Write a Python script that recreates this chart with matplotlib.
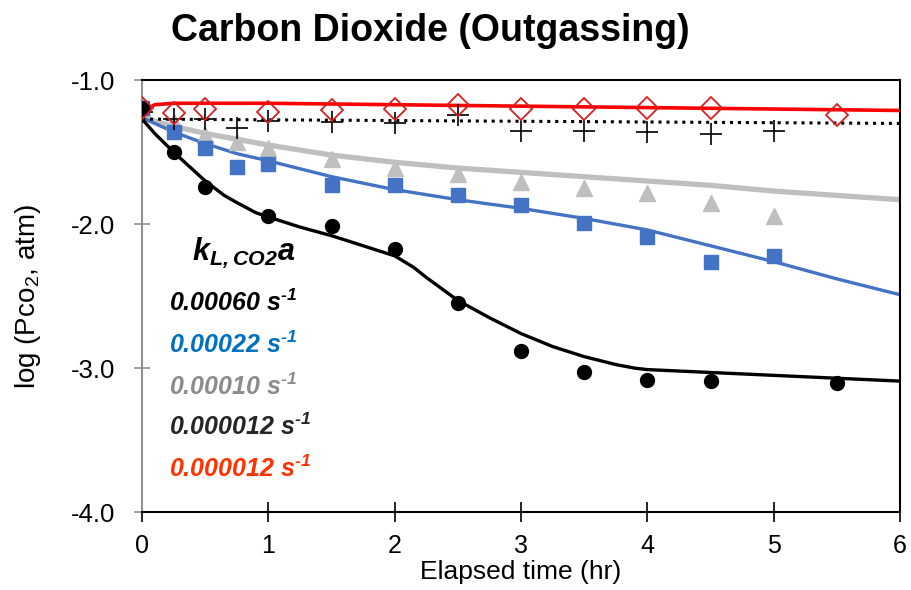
import matplotlib
matplotlib.use("Agg")
import matplotlib.pyplot as plt

plt.rcParams['font.family'] = ['Liberation Sans', 'DejaVu Sans']

# ---- data ----
t_black = [0, 0.25, 0.5, 1.0, 1.5, 2.0, 2.5, 3.0, 3.5, 4.0, 4.5, 5.5]
y_black = [-1.19, -1.50, -1.74, -1.94, -2.01, -2.17, -2.55, -2.88, -3.03, -3.08, -3.09, -3.10]
fit_t_black = [0, 0.1, 0.25, 0.4, 0.5, 0.65, 0.75, 0.9, 1.0, 1.25, 1.5, 1.75, 2.0, 2.15, 2.25,
               2.5, 2.75, 3.0, 3.25, 3.5, 3.75, 3.9, 4.0, 4.5, 5.0, 5.5, 6.0]
fit_y_black = [-1.27, -1.37, -1.50, -1.62, -1.70, -1.80, -1.85, -1.92, -1.95, -2.02, -2.08,
               -2.15, -2.22, -2.30, -2.37, -2.53, -2.65, -2.76, -2.85, -2.92, -2.975, -3.0,
               -3.01, -3.03, -3.05, -3.07, -3.09]

t_blue = [0, 0.25, 0.5, 0.75, 1.0, 1.5, 2.0, 2.5, 3.0, 3.5, 4.0, 4.5, 5.0]
y_blue = [-1.19, -1.36, -1.47, -1.60, -1.58, -1.73, -1.73, -1.80, -1.87, -1.99, -2.09, -2.26, -2.22]
fit_t_blue = [0, 0.25, 0.5, 0.75, 1.0, 1.5, 2.0, 2.5, 3.0, 3.5, 4.0, 4.5, 5.0, 5.5, 6.0]
fit_y_blue = [-1.26, -1.36, -1.44, -1.51, -1.56, -1.67, -1.76, -1.83, -1.89, -1.96, -2.04,
              -2.15, -2.26, -2.38, -2.49]

t_gray = [0, 0.25, 0.5, 0.75, 1.0, 1.5, 2.0, 2.5, 3.0, 3.5, 4.0, 4.5, 5.0]
y_gray = [-1.19, -1.29, -1.38, -1.43, -1.47, -1.55, -1.61, -1.65, -1.71, -1.75, -1.78, -1.85, -1.94]
fit_t_gray = [0, 0.25, 0.5, 1.0, 1.5, 2.0, 2.5, 3.0, 3.5, 4.0, 4.5, 5.0, 5.5, 6.0]
fit_y_gray = [-1.26, -1.32, -1.37, -1.45, -1.52, -1.57, -1.61, -1.64, -1.67, -1.70, -1.73,
              -1.77, -1.80, -1.83]

t_cross = [0, 0.25, 0.5, 0.75, 1.0, 1.5, 2.0, 2.5, 3.0, 3.5, 4.0, 4.5, 5.0]
y_cross = [-1.22, -1.27, -1.27, -1.33, -1.28, -1.29, -1.30, -1.24, -1.35, -1.35, -1.36, -1.37, -1.35]
fit_t_cross = [0, 6.0]
fit_y_cross = [-1.27, -1.30]

t_red = [0, 0.25, 0.5, 1.0, 1.5, 2.0, 2.5, 3.0, 3.5, 4.0, 4.5, 5.5]
y_red = [-1.19, -1.23, -1.20, -1.22, -1.21, -1.20, -1.17, -1.20, -1.20, -1.19, -1.19, -1.24]
fit_t_red = [0, 0.1, 0.25, 1.0, 2.0, 3.0, 4.0, 5.0, 6.0]
fit_y_red = [-1.22, -1.17, -1.16, -1.16, -1.17, -1.18, -1.19, -1.20, -1.21]

k_labels = ["0.00060", "0.00022", "0.00010", "0.000012", "0.000012"]
k_colors = ["#000000", "#0070C0", "#8C8C8C", "#262626", "#FF3300"]

x_ticks = [0, 1, 2, 3, 4, 5, 6]
y_ticks = [-1.0, -2.0, -3.0, -4.0]

# ---- figure ----
fig = plt.figure(figsize=(9.11, 5.90), dpi=100)
ax = fig.add_axes([0.156, 0.132, 0.832, 0.732])

c_blue = "#4472C4"
c_gray = "#BFBFBF"

ax.plot(fit_t_gray, fit_y_gray, color=c_gray, lw=3.8, zorder=2)
ax.plot(fit_t_blue, fit_y_blue, color=c_blue, lw=2.4, zorder=2)
ax.plot(fit_t_black, fit_y_black, color="black", lw=2.4, zorder=2)
ax.plot(fit_t_cross, fit_y_cross, color="black", lw=2.2, ls=(0, (1, 1.6)), zorder=2)
ax.plot(fit_t_red, fit_y_red, color="#FF0000", lw=2.6, zorder=3)

ax.plot(t_gray, y_gray, ls='none', marker='^', ms=12, color=c_gray, mec=c_gray, zorder=4)
ax.plot(t_blue, y_blue, ls='none', marker='s', ms=9.5, color=c_blue, mec=c_blue, zorder=4)
ax.plot(t_black, y_black, ls='none', marker='o', ms=10, color="black", zorder=4)
ax.plot(t_cross, y_cross, ls='none', marker='+', ms=16, mew=1.2, color="black", zorder=5)
ax.plot(t_red, y_red, ls='none', marker='D', ms=11.5, mfc='none', mec="#D42020", mew=1.3, zorder=5)

ax.set_xlim(0, 6)
ax.set_ylim(-4.0, -1.0)
ax.set_xticks(x_ticks)
ax.set_yticks(y_ticks)
ax.set_yticklabels([f"{v:.1f}" for v in y_ticks])
ax.tick_params(axis='x', direction='inout', length=14, width=1.2, color='black',
               labelsize=18, pad=9)
ax.tick_params(axis='y', direction='inout', length=11, width=1.2, color='#909090',
               labelsize=18.5, pad=14)
for s in ['top', 'right', 'bottom']:
    ax.spines[s].set_color('black')
    ax.spines[s].set_linewidth(1.5)
ax.spines['left'].set_color('#909090')
ax.spines['left'].set_linewidth(1.5)

ax.set_xlabel("Elapsed time (hr)", fontsize=19, labelpad=1)
ax.set_ylabel("log (Pco$\\mathregular{_2}$, atm)", fontsize=20, labelpad=20)

fig.text(430 / 911, 1 - 31 / 590, "Carbon Dioxide (Outgassing)", fontsize=27,
         fontweight='bold', ha='center', va='center')

ax.text(0.066, 0.60, "k$\\mathregular{_{L,CO2}}$a", transform=ax.transAxes,
        fontsize=22, fontweight='bold', fontstyle='italic', ha='left', va='center')
ys = [0.485, 0.388, 0.29, 0.198, 0.10]
for lab, col, yy in zip(k_labels, k_colors, ys):
    ax.text(0.036, yy, lab + " s$\\mathregular{^{\u2010 1}}$", transform=ax.transAxes,
            fontsize=18, fontweight='bold', fontstyle='italic', color=col,
            ha='left', va='center')

fig.savefig("out.png", dpi=100)
